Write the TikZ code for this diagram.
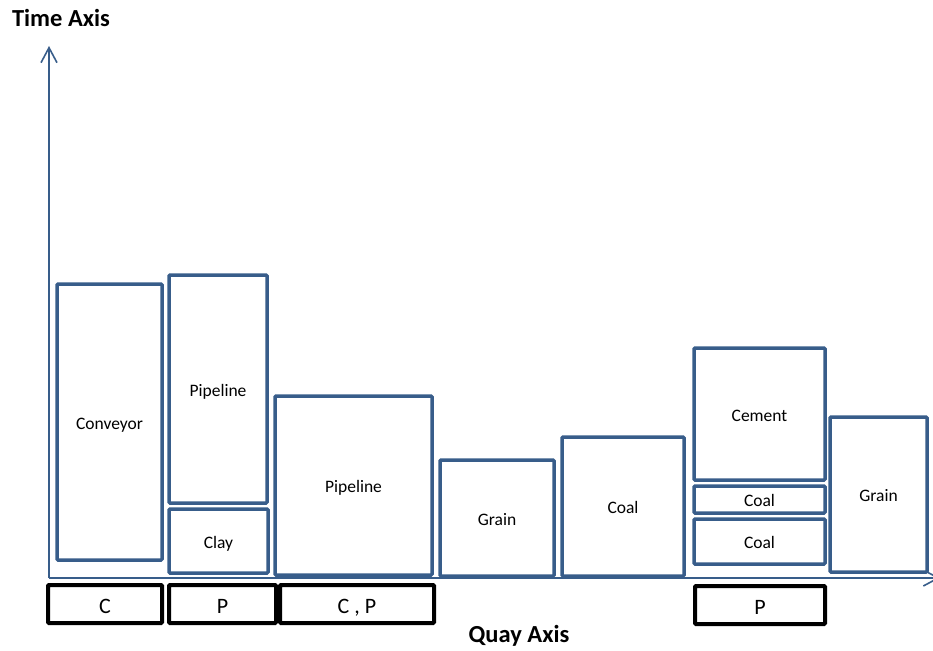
\documentclass[tikz,border=0pt]{standalone}
\usepackage{fontspec}
\setmainfont{Carlito}
\usetikzlibrary{arrows.meta}
\definecolor{outline}{RGB}{56,93,138}
\tikzset{
  berth/.style={draw=outline, line width=3.5pt, rounded corners=1pt, fill=white,
    inner sep=0pt, text height=14pt, text depth=0pt,
    font=\fontsize{17.5}{20}\selectfont},
  mode/.style={draw=black, line width=4pt, rounded corners=1pt, fill=white,
    inner sep=0pt, text height=18pt, text depth=0pt,
    font=\fontsize{22}{25}\selectfont},
  axis/.style={draw=outline, line width=1.6pt},
  axistitle/.style={font=\bfseries\fontsize{24.5}{28}\selectfont},
}
\begin{document}
\begin{tikzpicture}[x=1pt,y=-1pt]
\useasboundingbox (0,0) rectangle (933,650);
\clip (0,0) rectangle (933,650);

% axes
\coordinate (O) at (49,578);
\coordinate (Ytop) at (49,46);
\coordinate (Xend) at (940,578);
\draw[axis, -{Straight Barb[length=15pt,width=16pt]}] (O) -- (Ytop);
\draw[axis, -{Straight Barb[length=15pt,width=16pt]}] (O) -- (Xend);
\node[axistitle] (tlabel) at (61,18) {Time Axis};
\node[axistitle] (qlabel) at (519,636) {Quay Axis};

% berth occupation blocks
\node[berth, minimum width=105pt, minimum height=276pt] (conv)   at (109.5,422)   {Conveyor};
\node[berth, minimum width=98pt,  minimum height=228pt] (pipe1)  at (218,389)     {Pipeline};
\node[berth, minimum width=99pt,  minimum height=64pt]  (clay)   at (218.5,541)   {Clay};
\node[berth, minimum width=157pt, minimum height=179pt] (pipe2)  at (353.5,485.5) {Pipeline};
\node[berth, minimum width=114pt, minimum height=116pt] (grain1) at (497,518)     {Grain};
\node[berth, minimum width=122pt, minimum height=139pt] (coal1)  at (623,506.5)   {Coal};
\node[berth, minimum width=131pt, minimum height=132pt] (cement) at (759.5,414)   {Cement};
\node[berth, minimum width=131pt, minimum height=27pt]  (coal2)  at (759.5,499.5) {Coal};
\node[berth, minimum width=131pt, minimum height=45pt]  (coal3)  at (759.5,541.5) {Coal};
\node[berth, minimum width=97pt,  minimum height=155pt] (grain2) at (878.5,494.5) {Grain};

% handling equipment along the quay
\node[mode, minimum width=114pt, minimum height=38pt] (mC)  at (105,604)   {C};
\node[mode, minimum width=107pt, minimum height=38pt] (mP)  at (222.5,604) {P};
\node[mode, minimum width=154pt, minimum height=38pt] (mCP) at (357,604)   {C , P};
\node[mode, minimum width=130pt, minimum height=38pt] (mP2) at (760,605)   {P};
\end{tikzpicture}
\end{document}
